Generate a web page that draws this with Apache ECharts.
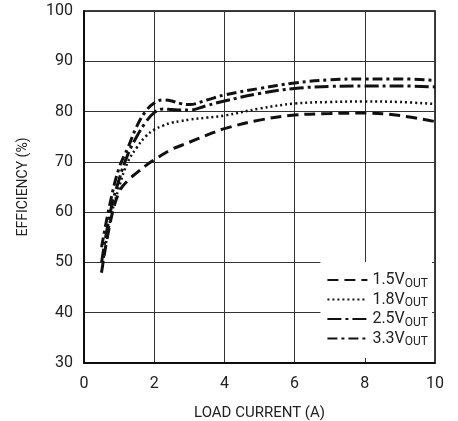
<!DOCTYPE html>
<html>
<head>
<meta charset="utf-8">
<script src="https://cdn.jsdelivr.net/npm/echarts@6/dist/echarts.min.js"></script>
<style>
  html, body { margin: 0; padding: 0; background: #fff; }
  #chart { width: 458px; height: 421px; }
</style>
</head>
<body>
<div id="chart"></div>
<script>
// load current (A)
const loadCurrent = [0.5, 0.75, 1, 1.25, 1.5, 1.75, 2, 2.25, 2.5, 2.75, 3, 3.5, 4, 5, 6, 7, 8, 9, 10];

// efficiency (%) per output voltage
const eff15 = [48, 58, 64, 66.3, 67.8, 69.2, 70.4, 71.5, 72.5, 73.2, 73.9, 75.3, 76.6, 78.3, 79.3, 79.6, 79.7, 79.2, 78];
const eff18 = [48, 58.5, 65, 70, 72.8, 75, 76.4, 77.2, 77.8, 78.1, 78.4, 78.8, 79.2, 80.6, 81.6, 81.9, 82, 81.9, 81.5];
const eff25 = [50, 60, 66.5, 71.5, 75, 77.8, 79.8, 80.5, 80.4, 80.3, 80.3, 81.2, 82.1, 83.6, 84.6, 85, 85.1, 85.1, 84.9];
const eff33 = [53, 62, 68.8, 72.8, 77, 80, 81.7, 82.3, 82.1, 81.6, 81.4, 82.3, 83.3, 84.6, 85.7, 86.3, 86.5, 86.5, 86.2];

const seriesNames = ['1.5V', '1.8V', '2.5V', '3.3V'];
const xTicks = [0, 2, 4, 6, 8, 10];
const yTicks = [30, 40, 50, 60, 70, 80, 90, 100];

const font = 'Roboto, "Liberation Sans", sans-serif';

function pairs(ys) {
  return loadCurrent.map((x, i) => [x, ys[i]]);
}

const styles = [
  { width: 3, type: [11, 6] },
  { width: 2.5, type: [2, 3] },
  { width: 3, type: [14, 4, 3, 4] },
  { width: 3, type: [10, 4, 3, 4] }
];
const values = [eff15, eff18, eff25, eff33];

const chart = echarts.init(document.getElementById('chart'));
chart.setOption({
  animation: false,
  textStyle: { fontFamily: font },
  grid: {
    left: 84, right: 23, top: 11, bottom: 58,
    containLabel: false,
    outerBoundsMode: 'none',
    show: true, borderColor: '#000', borderWidth: 1.5
  },
  legend: {
    orient: 'vertical',
    right: 26,
    bottom: 63,
    top: 'auto',
    backgroundColor: '#fff',
    padding: [10, 4, 10, 6],
    itemGap: 2,
    itemWidth: 40,
    itemHeight: 14,
    itemStyle: { opacity: 0 },
    data: seriesNames,
    formatter: n => '{v|' + n + '}{s|OUT}',
    textStyle: {
      color: '#222',
      fontFamily: font,
      rich: {
        v: { fontSize: 16, color: '#222', fontFamily: font },
        s: { fontSize: 12, color: '#222', fontFamily: font, padding: [7, 0, 0, 0] }
      }
    }
  },
  xAxis: {
    type: 'value',
    min: 0, max: 10, interval: 2,
    name: 'LOAD CURRENT (A)',
    nameLocation: 'middle',
    nameGap: 43,
    nameTextStyle: { fontSize: 15, color: '#222', fontFamily: font },
    axisLine: { lineStyle: { color: '#000', width: 1.5 } },
    axisTick: { show: false },
    axisLabel: { fontSize: 16, color: '#222', margin: 13, fontFamily: font,
      formatter: v => xTicks.includes(v) ? String(v) : '' },
    splitLine: { lineStyle: { color: '#333', width: 1 } }
  },
  yAxis: {
    type: 'value',
    min: 30, max: 100, interval: 10,
    name: 'EFFICIENCY (%)',
    nameLocation: 'middle',
    nameGap: 54,
    nameRotate: 90,
    nameTextStyle: { fontSize: 14, color: '#222', fontFamily: font },
    axisLine: { show: true, lineStyle: { color: '#000', width: 1.5 } },
    axisTick: { show: false },
    axisLabel: { fontSize: 16, color: '#222', margin: 11, fontFamily: font,
      formatter: v => yTicks.includes(v) ? String(v) : '' },
    splitLine: { lineStyle: { color: '#333', width: 1 } }
  },
  series: seriesNames.map((name, i) => ({
    name: name,
    type: 'line',
    smooth: 0.4,
    symbol: 'none',
    data: pairs(values[i]),
    lineStyle: { color: '#111', width: styles[i].width, type: styles[i].type },
    itemStyle: { color: '#111' }
  }))
});
</script>
</body>
</html>
